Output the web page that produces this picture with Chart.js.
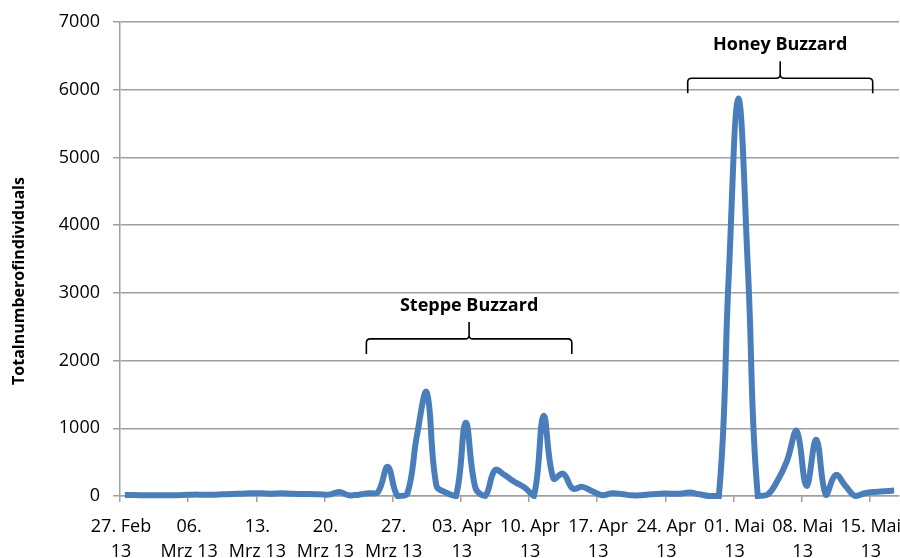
<!DOCTYPE html>
<html><head><meta charset="utf-8">
<script src="https://cdn.jsdelivr.net/npm/chart.js@4/dist/chart.umd.min.js"></script>
<style>html,body{margin:0;padding:0;background:#fff}#wrap{width:900px;height:558px;position:relative}</style>
</head><body><div id="wrap"><canvas id="c"></canvas></div>
<script>
// x tick labels (every 7 days starting 27 Feb 2013)
const tickLabels = [
  ['27. Feb','13'],['06.','Mrz 13'],['13.','Mrz 13'],['20.','Mrz 13'],['27.','Mrz 13'],
  ['03. Apr','13'],['10. Apr','13'],['17. Apr','13'],['24. Apr','13'],
  ['01. Mai','13'],['08. Mai','13'],['15. Mai','13']
];
const tickDays = [0,7,14,21,28,35,42,49,56,63,70,77];
// daily total number of individuals, 27 Feb .. 17 May 2013
const counts = [
  15,15,10,10,10,10,15,20,20,20,
  25,30,35,40,40,35,40,35,30,30,
  25,20,60,10,20,40,60,430,0,30,
  900,1530,150,50,0,1080,120,0,380,310,
  210,130,0,1180,260,330,110,135,70,10,
  40,30,10,10,25,35,35,35,50,25,
  0,0,3200,5870,3300,0,20,220,520,960,
  150,830,15,310,150,0,40,60,70,80
];
const yMin = 0, yMax = 7000, yStep = 1000;
const yTitle = 'Totalnumberofindividuals';
// species groups shown with braces
const groupNames = ['Steppe Buzzard','Honey Buzzard'];
const groupFrom = [25.3, 58.3];
const groupTo = [46.4, 77.3];
const groupLevel = [2320, 6170];

const points = counts.map((v,i)=>({x:i+0.5,y:v}));
const FONT = '"Open Sans", "DejaVu Sans", sans-serif';
const GRID = '#a0a0a0';

const bracePlugin = {
  id:'braces',
  afterDraw(chart){
    const ctx = chart.ctx, xs = chart.scales.x, ys = chart.scales.y;
    ctx.save();
    ctx.strokeStyle = '#000'; ctx.lineWidth = 1.6; ctx.fillStyle = '#000';
    groupNames.forEach((name,k)=>{
      const x1 = xs.getPixelForValue(groupFrom[k]);
      const x2 = xs.getPixelForValue(groupTo[k]);
      const xm = (x1+x2)/2;
      const y = ys.getPixelForValue(groupLevel[k]);
      const r = 4, drop = 15, tip = 17;
      ctx.beginPath();
      ctx.moveTo(x1, y+drop);
      ctx.lineTo(x1, y+r);
      ctx.quadraticCurveTo(x1, y, x1+r, y);
      ctx.lineTo(xm-r, y);
      ctx.quadraticCurveTo(xm, y, xm, y-r);
      ctx.lineTo(xm, y-tip);
      ctx.moveTo(xm, y-r);
      ctx.quadraticCurveTo(xm, y, xm+r, y);
      ctx.lineTo(x2-r, y);
      ctx.quadraticCurveTo(x2, y, x2, y+r);
      ctx.lineTo(x2, y+drop);
      ctx.stroke();
      ctx.font = 'bold 18px ' + FONT;
      ctx.textAlign = 'center'; ctx.textBaseline = 'middle';
      ctx.fillText(name, xm, y-33);
    });
    // y-axis title
    const ca = chart.chartArea;
    ctx.save();
    ctx.translate(19, (ca.top + ca.bottom)/2 + 22);
    ctx.rotate(-Math.PI/2);
    ctx.font = 'bold 16px ' + FONT;
    ctx.textAlign = 'center'; ctx.textBaseline = 'middle';
    ctx.fillText(yTitle, 0, 0);
    ctx.restore();
    ctx.restore();
  }
};

new Chart(document.getElementById('c'), {
  type:'line',
  data:{datasets:[{
    data:points,
    borderColor:'#4a7ebb', borderWidth:6,
    pointRadius:0, tension:0.4, fill:false, clip:false
  }]},
  options:{
    responsive:true, maintainAspectRatio:false, animation:false,
    layout:{padding:{left:0,right:1,top:22,bottom:0}},
    plugins:{legend:{display:false},tooltip:{enabled:false}},
    scales:{
      x:{
        type:'linear', min:0, max:80,
        afterBuildTicks(scale){ scale.ticks = tickDays.map(v=>({value:v})); },
        afterFit(scale){ scale.height = 62; scale.paddingLeft = 0; scale.paddingRight = 0; },
        grid:{drawOnChartArea:false, drawTicks:true, tickLength:6, color:GRID, lineWidth:1.5},
        border:{color:GRID, width:1.5},
        ticks:{
          autoSkip:false, maxRotation:0, minRotation:0, padding:12, labelOffset:1,
          color:'#000', font:{family:FONT, size:18, lineHeight:1.42},
          callback(v){ const i = tickDays.indexOf(v); return i>=0 ? tickLabels[i] : ''; }
        }
      },
      y:{
        min:yMin, max:yMax,
        afterFit(scale){ scale.width = 120; scale.paddingTop = 0; scale.paddingBottom = 0; },
        grid:{color:GRID, lineWidth:1.5, tickLength:7},
        border:{color:GRID, width:1.5},
        ticks:{stepSize:yStep, padding:13, color:'#000', font:{family:FONT, size:18},
               callback(v){ return String(v); }},
        title:{display:false}
      }
    }
  },
  plugins:[bracePlugin]
});
</script></body></html>
